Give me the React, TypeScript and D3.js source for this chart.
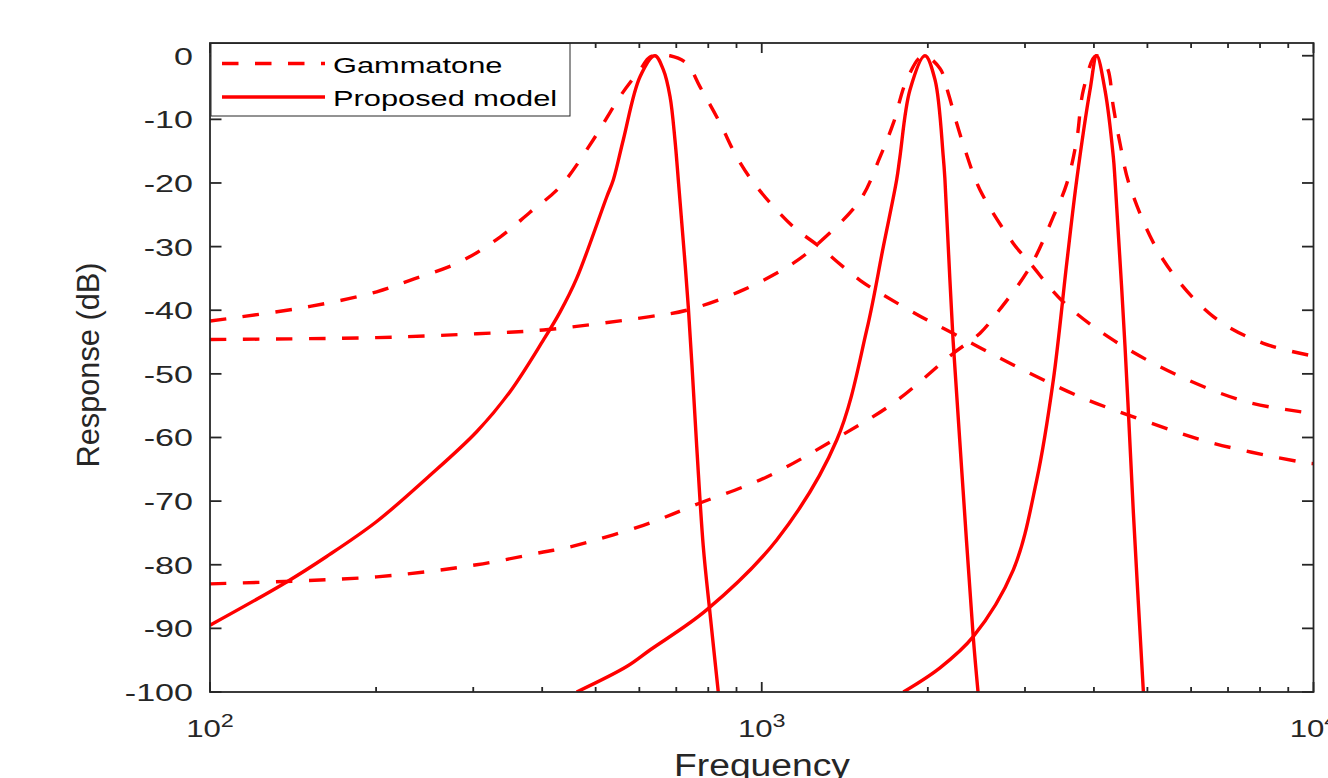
import * as d3 from "d3";

// Gammatone filter responses, [frequency Hz, response dB]
const gammatone650 = [
  [100, -41.7], [151.8, -39.4], [200.5, -37.1], [230.4, -35.3], [283.9, -32.4], [335.5, -28.5],
  [380.2, -24.6], [430.9, -20.6], [495.1, -13.2], [553.6, -6.4], [601.7, -2.2], [627.3, -0.2],
  [655, 0], [681.9, 0], [731.1, -1.2], [773, -4.9], [840.3, -10.6], [900.8, -15.9], [979.2, -20.6],
  [1140.9, -26.9], [1258.3, -29.7], [1507.3, -35.3], [1638.5, -37.3], [1990.6, -41.5],
  [2163.6, -43.1], [2486.8, -45.9], [2857.3, -48.6], [3774.5, -53.6], [4985.6, -57.5],
  [6584, -60.9], [9720, -64.0], [10000, -64.1],
];
const gammatone2000 = [
  [100, -44.6], [200.5, -44.3], [304.3, -43.7], [401.9, -43.1], [627.3, -41.0], [731.1, -40.0],
  [925.9, -36.8], [1140.9, -32.6], [1258.3, -29.7], [1507.3, -22.7], [1638.5, -15.9],
  [1731.8, -10.6], [1831.3, -3.8], [1960, 0], [2104, -2.0], [2178, -5.9], [2256, -10.6],
  [2336, -14.8], [2486.8, -21.1], [2857.3, -29.5], [3064, -32.6], [3520, -38.7], [4337, -44.7],
  [5728, -50.4], [7568, -54.4], [9385, -55.9], [10000, -56.2],
];
const gammatone4000 = [
  [100, -83.0], [200.5, -81.9], [304.3, -80.0], [401.9, -78.0], [449.3, -77.2], [610.1, -73.8],
  [773, -70.3], [1020.9, -66.2], [1367.6, -60.1], [1731.8, -54.6], [2222, -46.8], [2486.8, -43.6],
  [2666, -40.5], [3064, -33.2], [3376, -25.3], [3571, -20.1], [3723, -13.2], [3827, -5.4],
  [4035, 0], [4220, -1.7], [4337, -8.0], [4460, -13.8], [4650, -20.6], [5344, -32.1],
  [6584, -41.0], [8110, -45.2], [10000, -47.2],
];

// Proposed model responses
const proposed650 = [
  [100, -89.5], [137.7, -82.7], [162.7, -78.7], [200.5, -73.2], [247.1, -66.4], [304.3, -59.1],
  [349.8, -52.8], [401.9, -44.7], [430.9, -40.3], [461.9, -35.0], [523.6, -22.2], [538.3, -19.5],
  [561.2, -13.2], [601.7, -3.3], [640.4, 0], [663.1, -2.2], [681.9, -6.4], [696.1, -13.2],
  [705.9, -19.5], [735.9, -39.4], [762.3, -61.4], [783.6, -77.2], [805.7, -87.6], [834.1, -100],
];
const proposed2000 = [
  [461.9, -100], [569.1, -96.0], [627.3, -93.4], [794.6, -87.1], [1064.4, -76.1], [1367.6, -60.4],
  [1549.9, -43.1], [1661, -30.0], [1756, -19.5], [1780, -15.9], [1856, -5.4], [1976, 0],
  [2061, -3.8], [2133, -15.9], [2148, -19.5], [2222, -44.7], [2317, -68.3], [2417, -91.3],
  [2466, -100],
];
const proposed4000 = [
  [1806, -100], [2104, -96.2], [2417, -91.3], [2857.3, -80.8], [3150, -66.7], [3376, -51.0],
  [3571, -32.6], [3723, -19.5], [3935, -5.4], [4047, 0], [4189, -5.4], [4337, -15.9],
  [4368, -19.5], [4554, -45.7], [4716, -71.9], [4917, -100],
];

const yTicks = [0, -10, -20, -30, -40, -50, -60, -70, -80, -90, -100];
const xMajor = [100, 1000, 10000];
const legendLabels = ["Gammatone", "Proposed model"];

const W = 1328;
const H = 778;
const left = 210;
const right = 1313.5;
const top = 43;
const bottom = 692;
const axisColor = "#262626";
const red = "#ff0000";
const dash = "16.5 16.5";
const font = "'Liberation Sans', Arial, Helvetica, sans-serif";

export default function App() {
  const x = d3.scaleLog().domain([100, 10000]).range([left, right]);
  const y = d3.scaleLinear().domain([-100, 2]).range([bottom, top]);

  const line = d3
    .line<number[]>()
    .x((d) => x(d[0]))
    .y((d) => y(d[1]))
    .curve(d3.curveCatmullRom.alpha(0.5));

  const minor = x.ticks().filter((t) => !xMajor.includes(t));

  const dashed = [gammatone650, gammatone2000, gammatone4000];
  const solid = [proposed650, proposed2000, proposed4000];

  return (
    <svg
      width={W}
      height={H}
      style={{ position: "absolute", left: 0, top: 0, background: "#fff" }}
      fontFamily={font}
    >
      <defs>
        <clipPath id="plot-area">
          <rect x={left} y={top} width={right - left} height={bottom - top} />
        </clipPath>
      </defs>
      <rect x={0} y={0} width={W} height={H} fill="#fff" />

      <g clipPath="url(#plot-area)" fill="none" stroke={red} strokeWidth={3.4}>
        {dashed.map((d, i) => (
          <path key={"g" + i} d={line(d) || ""} strokeDasharray={dash} />
        ))}
        {solid.map((d, i) => (
          <path key={"p" + i} d={line(d) || ""} strokeLinejoin="round" />
        ))}
      </g>

      {/* axes box and ticks */}
      <g stroke={axisColor} strokeWidth={1.8} fill="none">
        <rect x={left} y={top} width={right - left} height={bottom - top} />
        {yTicks.map((t) => (
          <g key={"yt" + t}>
            <line x1={left} x2={left + 11.5} y1={y(t)} y2={y(t)} />
            <line x1={right} x2={right - 11.5} y1={y(t)} y2={y(t)} />
          </g>
        ))}
        {xMajor.map((t) => (
          <g key={"xt" + t}>
            <line x1={x(t)} x2={x(t)} y1={bottom} y2={bottom - 10} />
            <line x1={x(t)} x2={x(t)} y1={top} y2={top + 10} />
          </g>
        ))}
        {minor.map((t) => (
          <g key={"xm" + t}>
            <line x1={x(t)} x2={x(t)} y1={bottom} y2={bottom - 5} />
            <line x1={x(t)} x2={x(t)} y1={top} y2={top + 5} />
          </g>
        ))}
      </g>

      {/* tick labels */}
      <g fill={axisColor} fontSize={24}>
        {yTicks.map((t) => (
          <text key={"yl" + t} textAnchor="end" transform={`translate(193,${y(t) + 9}) scale(1.42,1)`}>
            {t}
          </text>
        ))}
        {xMajor.map((t) => (
          <text key={"xl" + t} textAnchor="middle" transform={`translate(${x(t)},737) scale(1.3,1)`}>
            10
            <tspan fontSize={18} dy={-10}>
              {Math.round(Math.log10(t))}
            </tspan>
          </text>
        ))}
      </g>

      {/* axis titles */}
      <text
        fill={axisColor}
        fontSize={31}
        textAnchor="middle"
        transform={`translate(99,365) rotate(-90)`}
        textLength={205}
        lengthAdjust="spacingAndGlyphs"
      >
        Response (dB)
      </text>
      <text
        fill={axisColor}
        fontSize={31}
        textAnchor="middle"
        x={762}
        y={776}
        textLength={176}
        lengthAdjust="spacingAndGlyphs"
      >
        Frequency
      </text>

      {/* legend */}
      <g>
        <rect x={211} y={43.5} width={359} height={72.5} fill="#fff" stroke={axisColor} strokeWidth={1} />
        <line x1={222} x2={325} y1={63.5} y2={63.5} stroke={red} strokeWidth={3.4} strokeDasharray={dash} />
        <line x1={222} x2={325} y1={97} y2={97} stroke={red} strokeWidth={3.4} />
        {legendLabels.map((l, i) => (
          <text
            key={l}
            fill="#000"
            fontSize={22}
            transform={`translate(333,${72.5 + i * 33.5}) scale(1.4,1)`}
          >
            {l}
          </text>
        ))}
      </g>
    </svg>
  );
}
